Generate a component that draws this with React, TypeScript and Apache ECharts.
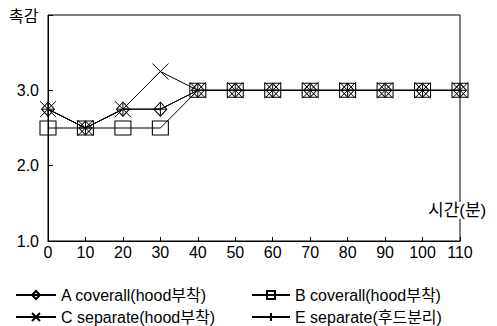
import React, { useEffect, useRef } from "react";
import * as echarts from "echarts";

const times = [0, 10, 20, 30, 40, 50, 60, 70, 80, 90, 100, 110];
const seriesA = [2.75, 2.5, 2.75, 2.75, 3, 3, 3, 3, 3, 3, 3, 3];
const seriesB = [2.5, 2.5, 2.5, 2.5, 3, 3, 3, 3, 3, 3, 3, 3];
const seriesC = [2.75, 2.5, 2.75, 3.25, 3, 3, 3, 3, 3, 3, 3, 3];
const seriesE = [2.75, 2.5, 2.75, 2.75, 3, 3, 3, 3, 3, 3, 3, 3];
const names = [
  "A coverall(hood부착)",
  "B coverall(hood부착)",
  "C separate(hood부착)",
  "E separate(후드분리)",
];
const yAxisTitle = "촉감";
const xAxisTitle = "시간(분)";

const FONT = "'Liberation Sans', 'Noto Sans CJK KR', sans-serif";

export default function App() {
  const ref = useRef<HTMLDivElement>(null);
  useEffect(() => {
    if (!ref.current) return;
    const chart = echarts.init(ref.current, null, { renderer: "svg" });
    const mk = (name: string, vals: number[], symbol: string, size: number | number[]) => ({
      name,
      type: "line",
      data: times.map((t, i) => [t, vals[i]]),
      symbol,
      symbolSize: size,
      showAllSymbol: true,
      lineStyle: { color: "#000", width: 1 },
      itemStyle: { color: "transparent", borderColor: "#000", borderWidth: 1 },
      emphasis: { disabled: true },
    });
    const leg = (name: string, left: number, top: number, w: number) => ({
      data: [name],
      orient: "horizontal",
      left,
      top,
      itemWidth: w,
      itemHeight: 10,
      textStyle: { color: "#000", fontSize: 16, fontFamily: FONT },
      selectedMode: false,
      padding: 0,
    });
    chart.setOption({
      animation: false,
      backgroundColor: "#fff",
      textStyle: { fontFamily: FONT },
      grid: {
        left: 48,
        right: 37,
        top: 15,
        bottom: 85,
        outerBoundsMode: "none",
        containLabel: false,
        show: true,
        borderColor: "#000",
        borderWidth: 1,
        backgroundColor: "transparent",
      },
      xAxis: {
        type: "value",
        min: 0,
        max: 110,
        interval: 10,
        axisLine: { lineStyle: { color: "#000", width: 1 } },
        axisTick: { inside: true, length: 4, lineStyle: { color: "#000" } },
        axisLabel: { color: "#000", fontSize: 16, margin: 3, fontFamily: FONT },
        splitLine: { show: false },
      },
      yAxis: {
        type: "value",
        min: 1,
        max: 4,
        interval: 1,
        axisLine: { show: true, lineStyle: { color: "#000", width: 1 } },
        axisTick: { show: true, inside: true, length: 5, lineStyle: { color: "#000" } },
        axisLabel: {
          color: "#000",
          fontSize: 16,
          margin: 9,
          fontFamily: FONT,
          formatter: (v: number) => (v >= 4 ? "" : v.toFixed(1)),
        },
        splitLine: { show: false },
      },
      legend: [
        leg(names[0], 15, 287, 40),
        leg(names[1], 251, 287, 38),
        leg(names[2], 15, 309, 40),
        leg(names[3], 251, 309, 38),
      ],
      graphic: [
        {
          type: "text",
          left: 9,
          top: 8,
          style: { text: yAxisTitle, fontSize: 16, fill: "#000", fontFamily: FONT },
        },
        {
          type: "text",
          left: 428,
          top: 202,
          z: 100,
          style: {
            text: xAxisTitle,
            fontSize: 17,
            fill: "#000",
            fontFamily: FONT,
            backgroundColor: "#fff",
          },
        },
      ],
      series: [
        mk(names[0], seriesA, "diamond", [13, 14]),
        mk(names[1], seriesB, "rect", [16, 14]),
        mk(names[2], seriesC, "path://M0,0L10,10M10,0L0,10", 16),
        mk(names[3], seriesE, "path://M5,0L5,10M0,5L10,5", 12),
      ],
    });
    return () => chart.dispose();
  }, []);
  return (
    <div
      ref={ref}
      style={{ position: "absolute", left: 0, top: 0, width: 497, height: 326 }}
    />
  );
}
